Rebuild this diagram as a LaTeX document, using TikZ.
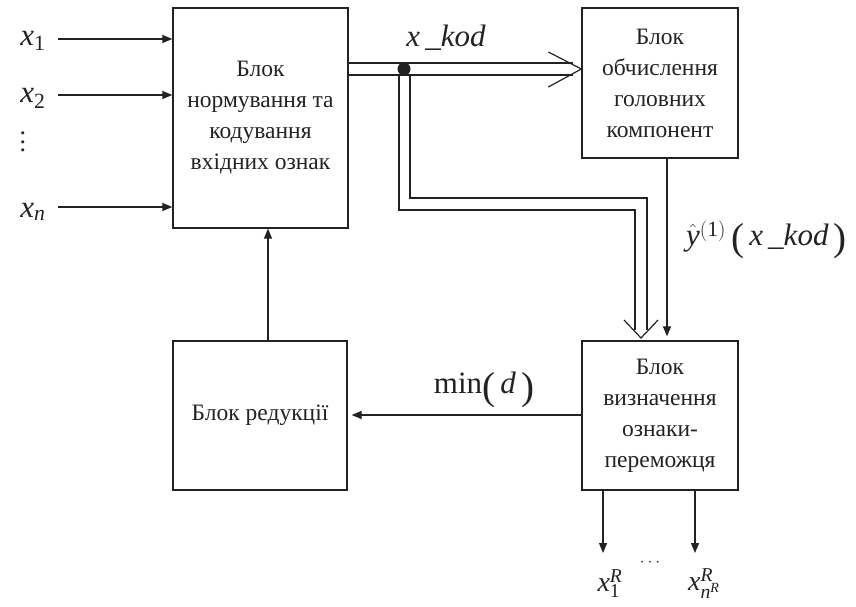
\documentclass[tikz,border=0pt]{standalone}
\usepackage{fontspec}
\setmainfont{Liberation Serif}
\usetikzlibrary{arrows.meta,calc}
\definecolor{ink}{HTML}{222222}
\newcommand{\bigparen}[1]{\raisebox{-0.18em}{\fontsize{39}{39}\selectfont #1}}
\begin{document}
\begin{tikzpicture}[x=1pt,y=-1pt,
  blk/.style={draw=ink, line width=1.3pt, inner sep=0pt, align=center, text=ink,
              font=\fontsize{23.5}{31}\selectfont},
  arr/.style={draw=ink, line width=1.2pt, -{Triangle[length=10pt,width=8pt]}},
  dl/.style={draw=ink, line width=1.2pt},
  vhead/.style={draw=ink, line width=1.2pt},
  mlab/.style={inner sep=0pt, text=ink, font=\fontsize{31}{36}\selectfont},
  slab/.style={inner sep=0pt, text=ink, font=\fontsize{28}{32}\selectfont}]
\useasboundingbox (0,0) rectangle (856,607);

% blocks
\node[blk, minimum width=175pt, minimum height=220pt] (norm) at (260.5,118)
  {Блок\\нормування та\\кодування\\вхідних ознак};
\node[blk, minimum width=156pt, minimum height=150pt] (comp) at (660,83)
  {Блок\\обчислення\\головних\\компонент};
\node[blk, minimum width=156pt, minimum height=149pt] (win) at (660,415.5)
  {Блок\\визначення\\ознаки-\\переможця};
\node[blk, minimum width=174pt, minimum height=149pt] (red) at (260,415.5)
  {Блок редукції};

% inputs
\node[mlab] (lx1) at (33,41) {$\mathit{x}_{\mathrm{1}}$};
\node[mlab] (lx2) at (33,98) {$\mathit{x}_{\mathrm{2}}$};
\node[inner sep=0pt, text=ink, align=center, font=\fontsize{26}{8.5}\selectfont] (ldots) at (23,142) {.\\.\\.};
\node[mlab] (lxn) at (33,212) {$\mathit{x}_{\mathit{n}}$};
\coordinate (s1) at (58,39);
\coordinate (s2) at (58,95);
\coordinate (sn) at (58,207);
\draw[arr] (s1) -- (s1 -| norm.west);
\draw[arr] (s2) -- (s2 -| norm.west);
\draw[arr] (sn) -- (sn -| norm.west);

% x_kod double bus
\coordinate (kod) at (404,69);
\node[mlab] (lkod) at (446,38) {\textit{x\,\_kod}};
\draw[dl] ($(norm.east |- kod)+(0,-6)$) -- ($(comp.west |- kod)+(-8,-6)$);
\draw[dl] ($(norm.east |- kod)+(0,6)$) -- ($(comp.west |- kod)+(-8,6)$);
\draw[vhead] ($(comp.west |- kod)+(-33,-17)$) -- (comp.west |- kod) -- ($(comp.west |- kod)+(-33,18)$);

% branch down to win
\coordinate (tip) at (641,338);
\draw[dl] ($(kod)+(-5,6)$) -- ($(kod)+(-5,141)$) -- ($(tip |- kod)+(-6,141)$) -- ($(tip)+(-6,-8)$);
\draw[dl] ($(kod)+(6,6)$) -- ($(kod)+(6,129)$) -- ($(tip |- kod)+(6,129)$) -- ($(tip)+(6,-8)$);
\draw[vhead] ($(tip)+(-17,-18)$) -- (tip) -- ($(tip)+(17,-18)$);
\fill[ink] (kod) circle (6.5pt);

% comp -> win
\draw[arr, shorten >=4pt] ([xshift=7pt]comp.south) -- ([xshift=7pt]win.north);
\node[mlab, anchor=west] (ly) at (686,240)
  {$\hat{\mathit{y}}^{\mathrm{(1)}}$\,\bigparen{(}\,\textit{x\,\_kod}\,\bigparen{)}};

% win -> red
\draw[arr, shorten >=4pt] (win.west |- 0,415) -- (red.east |- 0,415);
\node[mlab] (lmin) at (484,390) {min\bigparen{(}\,\textit{d}\,\bigparen{)}};

% red -> norm
\draw[arr] ([xshift=8pt]red.north) -- ([xshift=7.5pt]norm.south);

% outputs
\coordinate (o1) at (603,553);
\coordinate (o2) at (695,553);
\draw[arr] (win.south -| o1) -- (o1);
\draw[arr] (win.south -| o2) -- (o2);
\node[slab] (lo1) at (610,583) {$\mathit{x}_{\mathrm{1}}^{\mathit{R}\vphantom{l}}$};
\node[slab] (lo2) at (704,583) {$\mathit{x}_{\mathit{n}^{\mathit{R}}}^{\mathit{R}\vphantom{l}}$};
\node[slab] (lodots) at (650,563) {\fontsize{18}{18}\selectfont$\cdots$};
\end{tikzpicture}
\end{document}
